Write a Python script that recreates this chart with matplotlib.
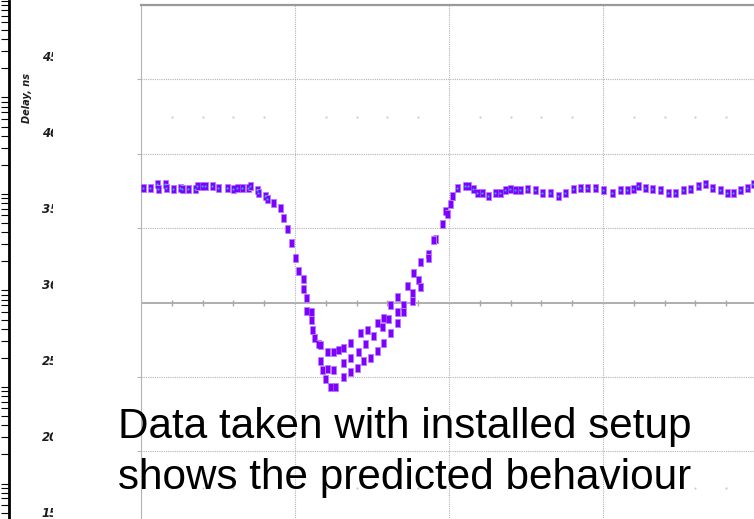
import matplotlib

matplotlib.use("Agg")

import matplotlib.pyplot as plt
from matplotlib.ticker import LogLocator, NullFormatter

W, H = 754, 519

# delay trace, ns vs time (arbitrary units, 10 per major division)
flat_left_t = [0.13, 0.58, 1.04, 1.10, 1.56, 1.62, 2.08, 2.53, 2.66, 3.05,
               3.51, 3.64, 3.96, 4.16, 4.61, 5.00, 5.58, 5.97, 6.23, 6.56,
               6.95, 7.08, 7.53, 7.60, 8.05, 8.18]
flat_left_d = [37.73, 37.73, 38.00, 37.66, 38.00, 37.73, 37.66, 37.73, 37.66, 37.66,
               37.66, 37.86, 37.86, 37.86, 37.86, 37.73, 37.73, 37.66, 37.73, 37.73,
               37.73, 37.86, 37.53, 37.33, 37.19, 36.99]

fall_t = [8.57, 9.03, 9.22, 9.48, 9.74, 10.00, 10.19, 10.52, 10.52, 10.71,
          10.71, 11.04, 11.04, 11.10, 11.23, 11.49]
fall_d = [36.72, 36.38, 35.71, 34.97, 34.03, 33.02, 32.15, 31.61, 30.94, 30.27,
          29.46, 29.33, 28.79, 28.12, 27.58, 27.24]

upper_t = [11.62, 12.08, 12.47, 12.79, 13.12, 13.57, 14.22, 14.68, 15.32, 15.71,
           16.17, 16.62, 17.27, 17.66, 18.12, 18.64, 19.09, 19.55, 19.74]
upper_d = [27.11, 26.64, 26.64, 26.84, 26.91, 27.31, 27.98, 28.12, 28.59, 28.99,
           29.80, 30.34, 31.14, 31.95, 32.69, 33.29, 34.30, 35.31, 36.18]

middle_t = [11.62, 12.08, 12.47, 13.12, 13.57, 14.09, 14.55, 15.06, 15.65, 16.04,
            16.62, 17.01, 17.60, 17.99, 18.64]
middle_d = [26.10, 25.56, 25.43, 25.90, 26.24, 26.64, 27.24, 27.78, 28.32, 28.92,
            29.33, 29.80, 30.67, 31.48, 33.02]

lower_t = [11.75, 11.95, 12.27, 12.60, 13.12, 13.57, 14.03, 14.42, 14.87, 15.32,
           15.71, 16.17, 16.62, 17.01, 17.60, 18.12]
lower_d = [25.43, 24.89, 24.29, 24.29, 24.96, 25.30, 25.63, 26.10, 26.30, 26.77,
           27.31, 27.92, 28.59, 29.33, 30.13, 31.01]

flat_right_t = [18.96, 19.87, 20.06, 20.19, 20.52, 21.04, 21.23, 21.56, 21.82, 22.14,
                22.53, 22.99, 23.31, 23.64, 23.96, 24.29, 24.61, 25.06, 25.58, 26.04,
                26.56, 27.08, 27.53, 28.05, 28.51, 28.96, 29.48, 30.00, 30.58, 31.10,
                31.56, 31.95, 32.27, 32.73, 33.18, 33.70, 34.22, 34.68, 35.19, 35.65,
                36.17, 36.62, 37.08, 37.60, 38.05, 38.44, 38.90, 39.35, 39.74]
flat_right_d = [34.17, 35.98, 36.65, 37.19, 37.73, 37.86, 37.86, 37.66, 37.39, 37.33,
                37.19, 37.33, 37.39, 37.53, 37.66, 37.53, 37.53, 37.66, 37.53, 37.33,
                37.33, 37.19, 37.33, 37.66, 37.73, 37.73, 37.73, 37.53, 37.39, 37.53,
                37.53, 37.66, 37.86, 37.73, 37.66, 37.53, 37.39, 37.39, 37.53, 37.66,
                37.86, 38.00, 37.73, 37.53, 37.39, 37.39, 37.53, 37.73, 38.00]

y_ticks = [15, 20, 25, 30, 35, 40, 45]
x_major = [0, 10, 20, 30, 40]
x_minor = [2, 4, 6, 8, 12, 14, 16, 18, 22, 24, 26, 28, 32, 34, 36, 38]
side_rows = [17.5, 42.5]

PURPLE = "#7f00ff"
HALO = "#b57cff"
GRID = "#b4b4b4"
BAR = [(-0.3, -0.5), (0.3, -0.5), (0.3, 0.5), (-0.3, 0.5)]
LABEL_FONT = dict(family="DejaVu Sans", fontweight="bold", fontstyle="oblique",
                  color="#1c1c1c")

fig = plt.figure(figsize=(W / 100, H / 100), dpi=100)
fig.patch.set_facecolor("white")


def frac_box(left, top, right, bottom):
    return [left / W, 1 - bottom / H, (right - left) / W, (bottom - top) / H]


# main plotting area (runs off the right and bottom of the crop)
ax = fig.add_axes(frac_box(141, 5, 757, 600))
ax.set_xlim(0, 40)
ax.set_ylim(10, 50)
ax.set_xticks(x_major)
ax.set_yticks([v for v in y_ticks if v != 30])
ax.grid(True, color=GRID, linestyle=(0, (1, 1)), linewidth=0.8)
ax.tick_params(axis="x", length=0, labelbottom=False)
ax.tick_params(axis="y", direction="out", length=3, color=GRID, labelleft=False)
for side in ("right", "bottom"):
    ax.spines[side].set_visible(False)
ax.spines["top"].set_color("#9a9a9a")
ax.spines["top"].set_linewidth(1.6)
ax.spines["left"].set_color(GRID)
ax.spines["left"].set_linestyle((0, (1, 1)))
ax.spines["left"].set_linewidth(0.8)

ax.axhline(30, color="#a8a8a8", linewidth=1.3, zorder=1)
ax.plot(x_minor, [30] * len(x_minor), linestyle="none", marker="|",
        markersize=5, color="#a8a8a8", zorder=1)
for row in side_rows:
    ax.plot(x_minor, [row] * len(x_minor), linestyle="none", marker="s",
            markersize=1.3, color="#c4c4c4", markeredgewidth=0, zorder=1)

for t, d in [(flat_left_t, flat_left_d), (fall_t, fall_d), (upper_t, upper_d),
             (middle_t, middle_d), (lower_t, lower_d), (flat_right_t, flat_right_d)]:
    ax.plot(t, d, linestyle="none", marker=BAR, markersize=6,
            markerfacecolor=PURPLE, markeredgecolor=HALO, markeredgewidth=0.7, zorder=3)

for t, d in [(flat_left_t, flat_left_d), (flat_right_t[4:], flat_right_d[4:])]:
    ax.plot(t, d, linestyle="none", marker="s", markersize=1.3,
            color="#19c8f0", markeredgewidth=0, zorder=4)

# cropped axis labels on the left
ax_lab = fig.add_axes(frac_box(0, 5, 53, 600))
ax_lab.set_xlim(0, 53)
ax_lab.set_ylim(9.27, 48.49)
ax_lab.axis("off")
for v in y_ticks:
    ax_lab.text(42, v, str(v), fontsize=8.5, ha="left", va="center",
                clip_on=True, **LABEL_FONT)
ax_lab.text(27, 42.36, "Delay, ns", rotation=90, fontsize=7, ha="center",
            va="center", **LABEL_FONT)

# edge of a neighbouring log-scale plot
ax_log = fig.add_axes(frac_box(0, 1, 8.5, 520))
ax_log.set_yscale("log")
ax_log.set_ylim(10 ** (6 - 519 / 96.5), 1e6)
ax_log.set_xticks([])
ax_log.yaxis.set_major_locator(LogLocator(base=10, numticks=10))
ax_log.yaxis.set_minor_locator(LogLocator(base=10, subs=range(2, 10), numticks=10))
ax_log.yaxis.set_minor_formatter(NullFormatter())
ax_log.tick_params(axis="y", which="both", direction="in", left=False, right=True,
                   length=6, width=0.8, color="black", labelleft=False)
for side in ("left", "top", "bottom"):
    ax_log.spines[side].set_visible(False)
ax_log.spines["right"].set_linewidth(2)
ax_log.patch.set_alpha(0)

fig.text(118 / W, 1 - 438 / H, "Data taken with installed setup", fontsize=30.4,
         family="Liberation Sans", color="black", ha="left", va="baseline")
fig.text(118 / W, 1 - 489 / H, "shows the predicted behaviour", fontsize=30.4,
         family="Liberation Sans", color="black", ha="left", va="baseline")

fig.savefig("out.png", dpi=100)
plt.close(fig)
